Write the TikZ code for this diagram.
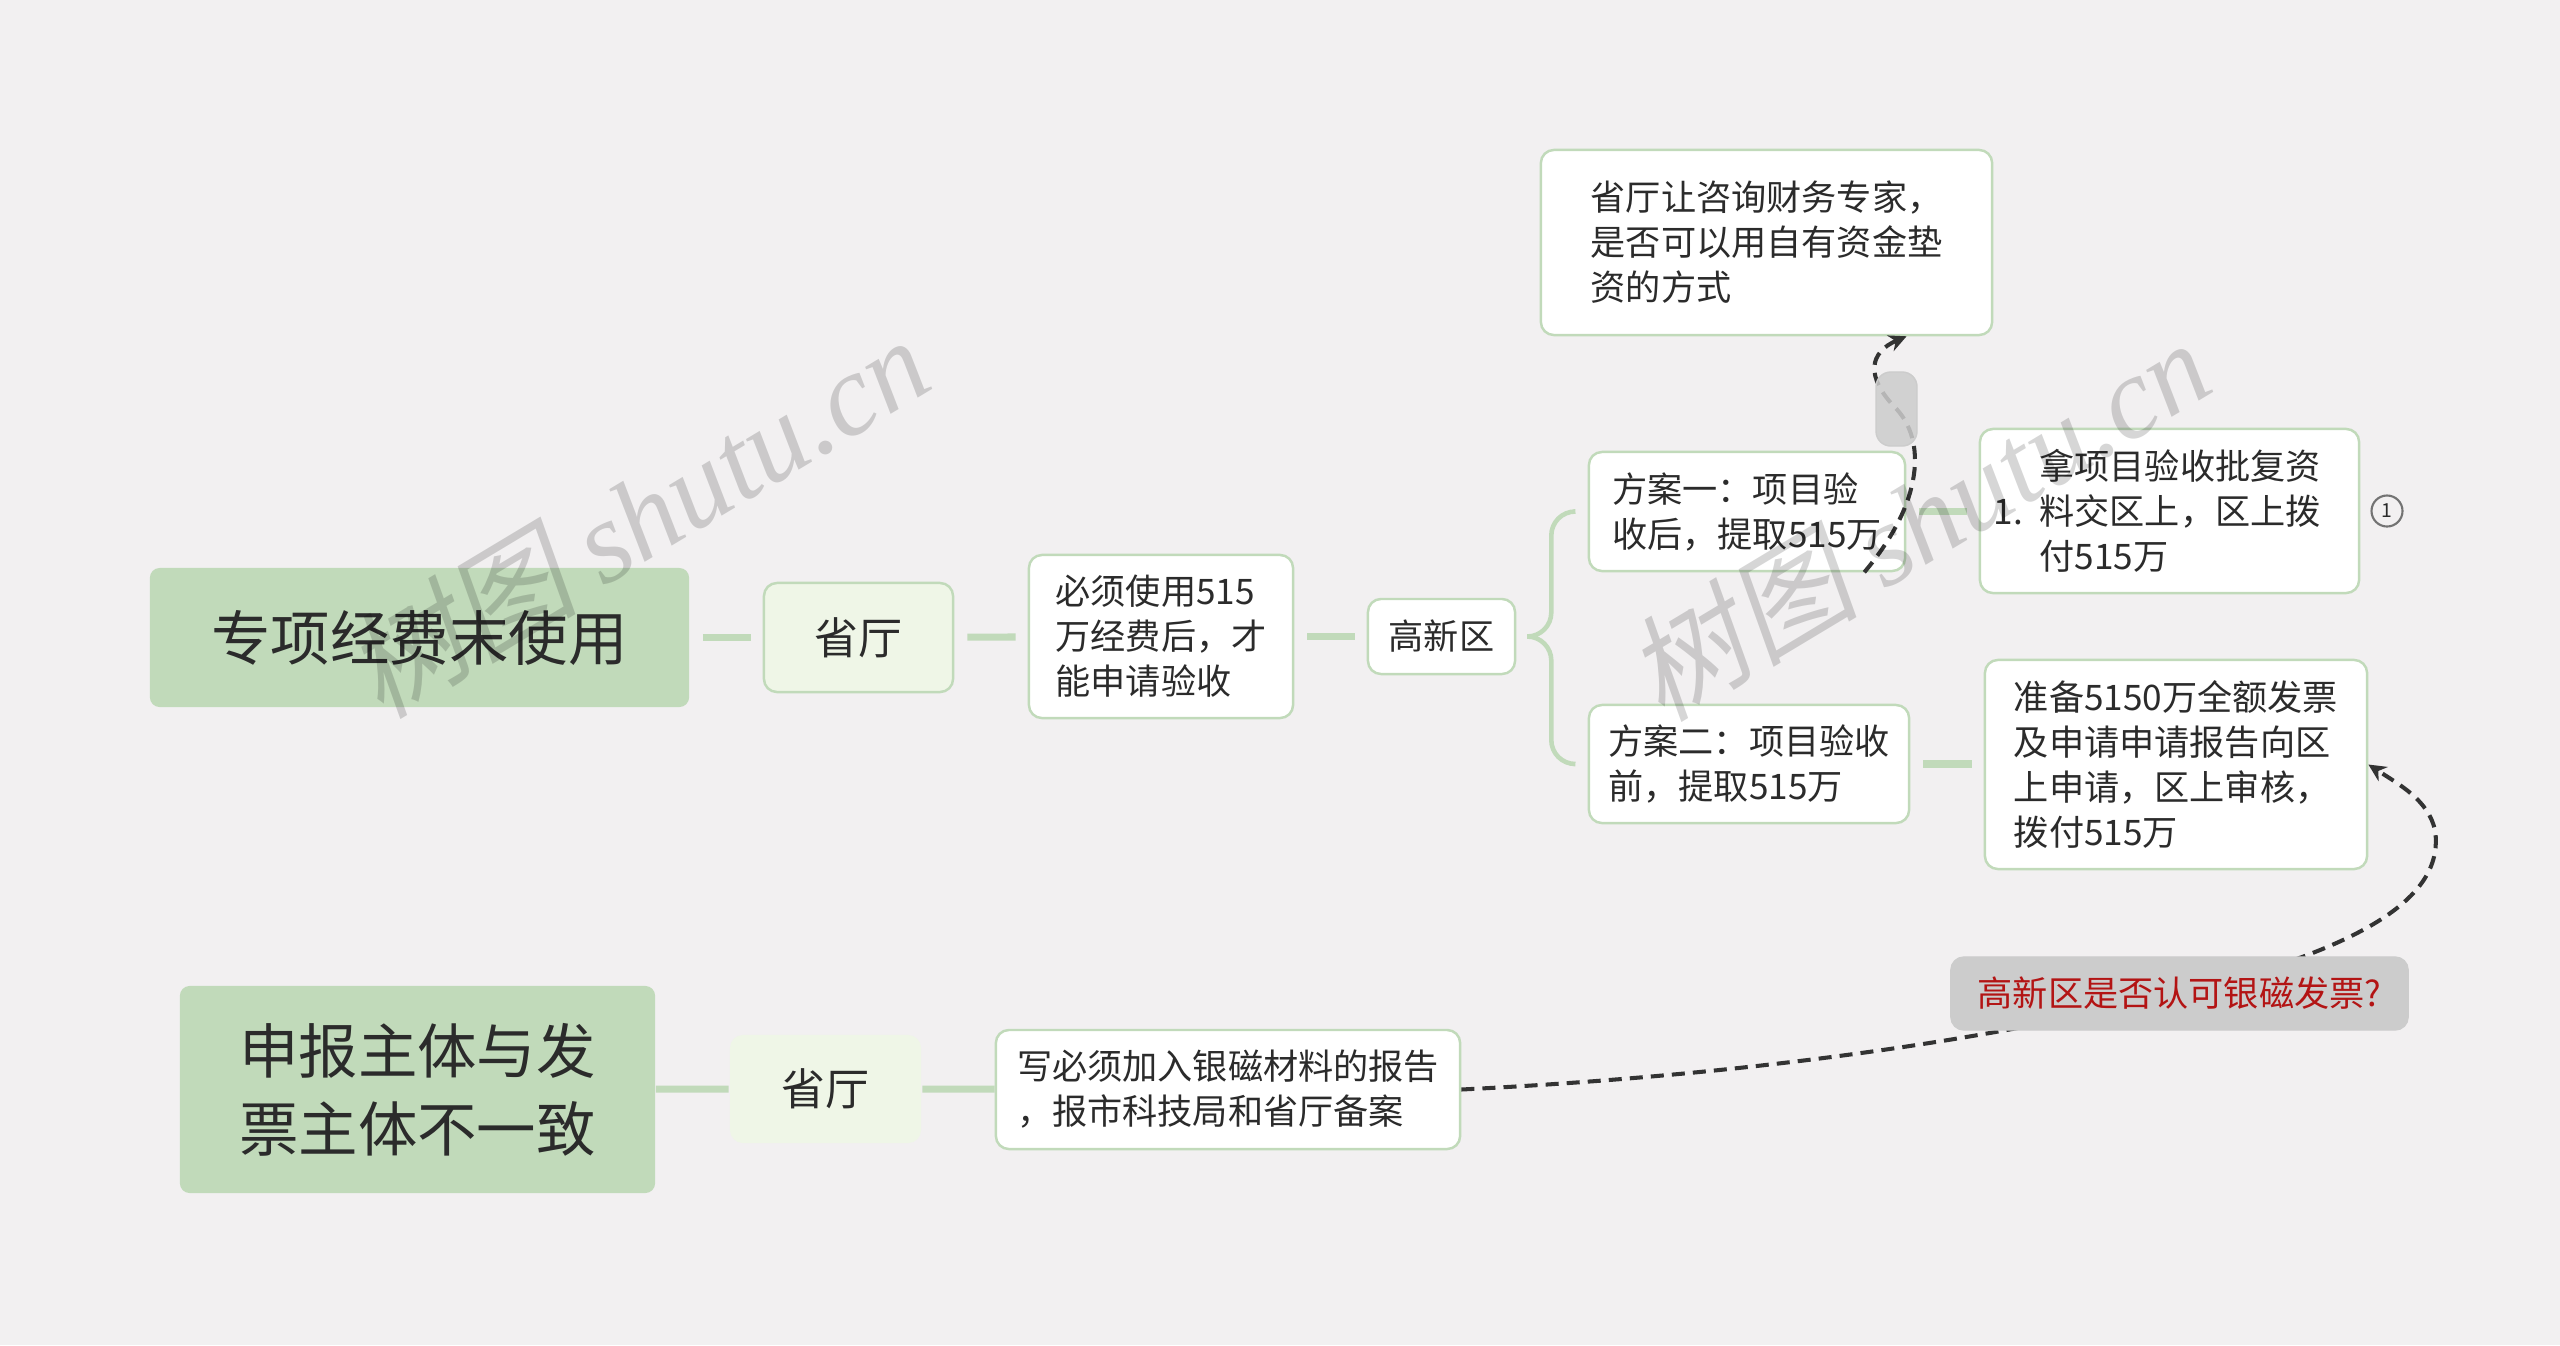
\documentclass[tikz,border=0pt]{standalone}
\usepackage{fontspec}
\setmainfont{Noto Sans CJK SC}
\newfontfamily\markcjk[FakeSlant=0.2]{Noto Sans CJK SC}
\newfontfamily\marklatin{Liberation Serif}
\usepackage{tikz}
\usetikzlibrary{positioning,arrows.meta}
\definecolor{paper}{HTML}{F2F0F1}
\definecolor{leaf}{HTML}{C1DABA}
\definecolor{paleleaf}{HTML}{EFF6E7}
\definecolor{ink}{HTML}{2B2B2B}
\definecolor{tagred}{HTML}{B31414}
\definecolor{tagfill}{HTML}{CCCCCC}
\definecolor{relink}{HTML}{333333}

\begin{document}
\begin{tikzpicture}[x=0.01cm, y=-0.01cm,
rootbox/.style={rectangle, rounded corners=2.8pt, fill=leaf, align=center, inner sep=0pt, font=\fontsize{16.9}{22.2}\selectfont},
deptbox/.style={rectangle, rounded corners=3.7pt, draw=leaf, fill=paleleaf, line width=0.7pt, inner sep=0pt, font=\fontsize{12.5}{15}\selectfont},
notebox/.style={rectangle, rounded corners=3.7pt, draw=leaf, fill=white, line width=0.7pt, align=left, inner sep=0pt, font=\fontsize{10}{12.8}\selectfont},
tagbox/.style={rectangle, rounded corners=3.7pt, draw=black!20, line width=0.4pt, fill=tagfill, inner sep=0pt, font=\fontsize{10}{12.8}\selectfont},
branch/.style={draw=leaf, line width=2pt, shorten <=0.13cm, shorten >=0.12cm},
tightbranch/.style={draw=leaf, line width=2pt},
forkline/.style={draw=leaf, line width=1.3pt, rounded corners=0.24cm},
relation/.style={draw=relink, line width=1.15pt, dash pattern=on 3.7pt off 2.3pt, -{Stealth[length=5pt,width=4.8pt]}},
watermark/.style={text=black, text opacity=0.16, rotate=31, font=\fontsize{33}{36}\selectfont}]
\tikzstyle{every node}=[text=ink]
\useasboundingbox (0,0) rectangle (2560,1345);
\clip (0,0) rectangle (2560,1345);
\fill[paper] (0,0) rectangle (2560,1345);

% first topic
\node[rootbox, minimum width=5.39cm, minimum height=1.39cm] (fund) at (419.5,637.5) {专项经费末使用};
\node[deptbox, minimum width=1.89cm, minimum height=1.09cm] (dept1) at (858.5,637.5) {省厅};
\node[notebox, minimum width=2.64cm, minimum height=1.63cm] (must) at (1161,636.5) {必须使用515\\万经费后，才\\能申请验收};
\node[notebox, minimum width=1.47cm, minimum height=0.75cm] (zone) at (1441.5,636.5) {高新区};
\node[notebox, minimum width=3.16cm, minimum height=1.19cm] (planA) at (1747,511.5) {方案一：项目验\\收后，提取515万};
\node[notebox, minimum width=3.20cm, minimum height=1.18cm] (planB) at (1749,764) {方案二：项目验收\\前，提取515万};
\node[notebox, minimum width=3.79cm, minimum height=1.64cm] (payA) at (2169.5,511) {\hspace*{1.3em}拿项目验收批复资\\\makebox[1.3em][l]{1.}料交区上，区上拨\hspace*{0.7em}\mbox{}\\\hspace*{1.3em}付515万};
\node[notebox, minimum width=3.82cm, minimum height=2.09cm] (payB) at (2176,764.5) {准备5150万全额发票\\及申请申请报告向区\\上申请，区上审核，\\拨付515万};
\node[notebox, minimum width=4.51cm, minimum height=1.85cm] (ask) at (1766.5,242.5) {省厅让咨询财务专家，\\是否可以用自有资金垫\\资的方式};
\node[circle, draw=black!55, line width=0.6pt, minimum size=0.31cm, inner sep=0pt, font=\fontsize{5.5}{6}\selectfont] (mark) at (2387,511) {1};

% second topic
\node[rootbox, minimum width=4.75cm, minimum height=2.07cm] (subject) at (417.5,1089.5) {申报主体与发\\票主体不一致};
\node[deptbox, draw=none, minimum width=1.91cm, minimum height=1.08cm] (dept2) at (825.5,1089) {省厅};
\node[notebox, minimum width=4.64cm, minimum height=1.19cm] (report) at (1228,1089.5) {写必须加入银磁材料的报告\\，报市科技局和省厅备案};

\draw[branch] (fund) -- (dept1);
\draw[branch] (dept1) -- (must);
\draw[branch] (must) -- (zone);
\draw[branch] (planA) -- (planA -| payA.west);
\draw[branch] (planB) -- (planB -| payB.west);
\draw[tightbranch] (subject) -- (dept2);
\draw[tightbranch] (dept2) -- (report);

\coordinate (fork) at ([xshift=0.12cm]zone.east);
\draw[forkline] ([xshift=-0.14cm]planA.west) -| ([xshift=0.23cm]fork) -- (fork);
\draw[forkline] ([xshift=-0.14cm]planB.west) -| ([xshift=0.23cm]fork) -- (fork);

% relations
\coordinate (askMid) at (1896.5,409);
\coordinate (invoiceMid) at (2179.5,993.5);
\coordinate (bend) at (2435,830);
\draw[relation] ([xshift=-0.42cm]planA.south east) .. controls (1925,500) and (1925,440) .. (askMid)
  .. controls (1864,376) and (1870,352) .. ([xshift=1.4cm]ask.south);
\draw[relation] (report.east) .. controls (1750,1075) and (1990,1040) .. (invoiceMid)
  .. controls (2369,947) and (2445,895) .. (bend)
  .. controls (2428,800) and (2400,785) .. (payB.east);
\node[tagbox, rounded corners=4.2pt, fill opacity=0.85, minimum width=0.41cm, minimum height=0.74cm] (askTag) at (askMid) {};
\node[tagbox, text=tagred, minimum width=4.57cm, minimum height=0.73cm] (invoiceTag) at (invoiceMid) {高新区是否认可银磁发票?};

% watermarks
\node[watermark] (markA) at (637,516) {{\markcjk 树图} {\marklatin\itshape shutu.cn}};
\node[watermark] (markB) at (1918,519) {{\markcjk 树图} {\marklatin\itshape shutu.cn}};
\end{tikzpicture}
\end{document}
